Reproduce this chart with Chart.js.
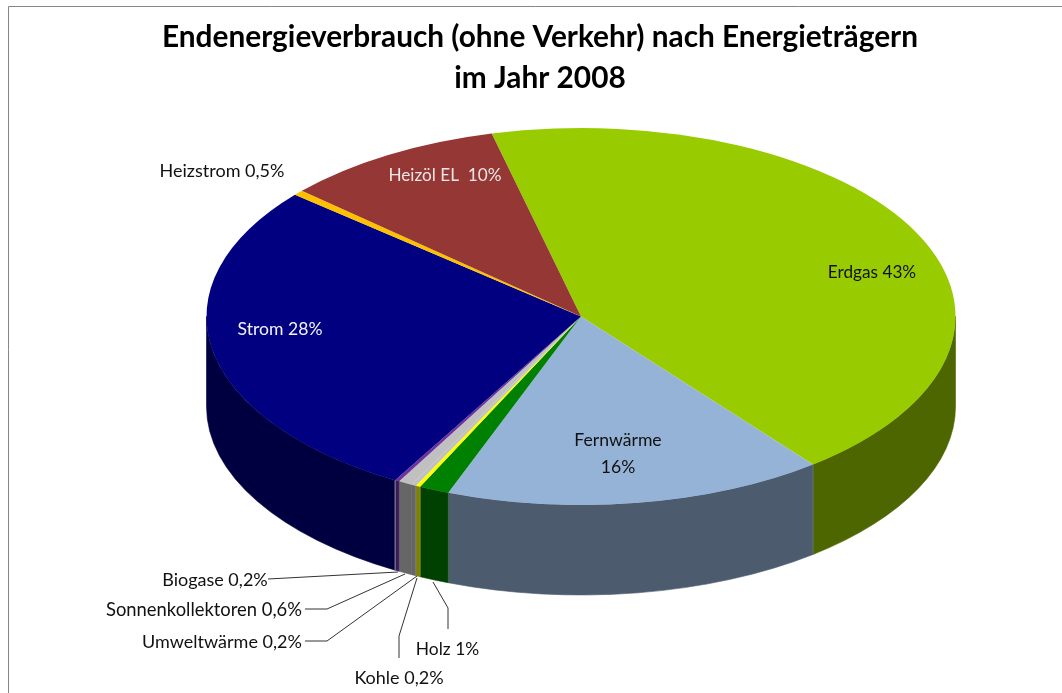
<!DOCTYPE html>
<html lang="de">
<head>
<meta charset="utf-8">
<style>html,body{margin:0;padding:0;background:#fff}canvas{display:block}</style>
<script src="https://cdn.jsdelivr.net/npm/chart.js@4"></script>
</head>
<body>
<canvas id="c" width="1062" height="693"></canvas>
<script>
const titleLines = ["Endenergieverbrauch (ohne Verkehr) nach Energieträgern", "im Jahr 2008"];
const categories = ["Erdgas", "Fernwärme", "Holz", "Kohle", "Umweltwärme", "Sonnenkollektoren", "Biogase", "Strom", "Heizstrom", "Heizöl EL"];
const shares = [43.2, 16.4, 1.3, 0.2, 0.2, 0.6, 0.2, 27.9, 0.45, 9.55];
const topColours = ["#99CC00", "#95B3D7", "#008000", "#FFFF00", "#C0C0C0", "#C0C0C0", "#7030A0", "#000080", "#FFC000", "#953735"];
const wallColours = ["#4E6600", "#4C5B6E", "#004000", "#808000", "#666666", "#666666", "#3A1C55", "#000040", "#806000", "#4B1C1B"];

const FONT = "Lato, Carlito, sans-serif";
const pieBox = { cx: 581, cy: 316.5, rx: 374.5, ry: 188.5, depth: 90 };
const labelBoxes = [
  { lines: ["Erdgas 43%"], x: 872, y: 272, size: 17.2, colour: "#111" },
  { lines: ["Fernwärme", "16%"], x: 618, y: 440, size: 17.6, colour: "#111", lead: 27 },
  { lines: ["Heizöl EL  10%"], x: 445, y: 175, size: 17.2, colour: "#EDE6E6" },
  { lines: ["Strom 28%"], x: 280, y: 329, size: 17.6, colour: "#F2F2F8" },
  { lines: ["Heizstrom 0,5%"], x: 222, y: 171, size: 18, colour: "#111" },
  { lines: ["Biogase 0,2%"], x: 215, y: 580, size: 18, colour: "#111" },
  { lines: ["Sonnenkollektoren 0,6%"], x: 204, y: 610, size: 18.4, colour: "#111" },
  { lines: ["Umweltwärme 0,2%"], x: 222, y: 642, size: 18, colour: "#111" },
  { lines: ["Kohle 0,2%"], x: 399, y: 678, size: 18, colour: "#111" },
  { lines: ["Holz 1%"], x: 447.5, y: 649, size: 17.4, colour: "#111" }
];
const leaderPaths = [
  [[268, 579], [398, 572]],
  [[305, 609], [327, 609], [405, 574]],
  [[305, 641], [327, 641], [417, 576]],
  [[399, 658], [399, 636], [417, 578]],
  [[448, 629], [448, 608], [433, 582]]
];

function placeOnBox(ctx, el) {
  ctx.translate(pieBox.cx, pieBox.cy);
  ctx.scale(pieBox.rx / el.outerRadius, pieBox.ry / el.outerRadius);
  ctx.translate(-el.x, -el.y);
}

const extrudedPie = {
  id: "extrudedPie",
  beforeDraw(chart) {
    const ctx = chart.ctx;
    ctx.save();
    ctx.fillStyle = "#fff";
    ctx.fillRect(0, 0, chart.width, chart.height);
    ctx.strokeStyle = "#868686";
    ctx.lineWidth = 1;
    ctx.beginPath();
    ctx.moveTo(8.5, chart.height);
    ctx.lineTo(8.5, 6.5);
    ctx.lineTo(chart.width, 6.5);
    ctx.stroke();
    ctx.restore();
  },
  beforeDatasetsDraw(chart) {
    const ctx = chart.ctx, arcs = chart.getDatasetMeta(0).data;
    const { cx, cy, rx, ry, depth } = pieBox;
    ctx.save();
    arcs.forEach((arc, i) => {
      for (const shift of [-2 * Math.PI, 0, 2 * Math.PI]) {
        const s = Math.max(arc.startAngle + shift, 0);
        const e = Math.min(arc.endAngle + shift, Math.PI);
        if (e <= s) continue;
        ctx.beginPath();
        ctx.ellipse(cx, cy, rx, ry, 0, s, e);
        ctx.ellipse(cx, cy + depth, rx, ry, 0, e, s, true);
        ctx.closePath();
        ctx.fillStyle = wallColours[i];
        ctx.fill();
        ctx.strokeStyle = wallColours[i];
        ctx.lineWidth = 0.6;
        ctx.stroke();
      }
    });
    arcs.forEach((arc, i) => {
      const a = arc.startAngle;
      const prev = (i + arcs.length - 1) % arcs.length;
      if (wallColours[prev] === wallColours[i] || Math.sin(a) <= 0) return;
      const x = cx + rx * Math.cos(a), y = cy + ry * Math.sin(a);
      ctx.beginPath();
      ctx.moveTo(x, y);
      ctx.lineTo(x, y + depth);
      ctx.strokeStyle = categories[i] === "Strom" ? "rgba(255,255,255,0.55)" : "rgba(255,255,255,0.14)";
      ctx.lineWidth = 1;
      ctx.stroke();
    });
    ctx.restore();
    ctx.save();
    placeOnBox(ctx, arcs[0]);
  },
  afterDatasetsDraw(chart) {
    chart.ctx.restore();
  },
  afterDraw(chart) {
    const ctx = chart.ctx;
    ctx.save();
    ctx.lineWidth = 1;
    ctx.strokeStyle = "#333";
    leaderPaths.forEach((path) => {
      ctx.beginPath();
      path.forEach(([x, y], j) => (j ? ctx.lineTo(x, y) : ctx.moveTo(x, y)));
      ctx.stroke();
    });
    ctx.textAlign = "center";
    ctx.textBaseline = "middle";
    labelBoxes.forEach((b) => {
      ctx.font = b.size + "px " + FONT;
      ctx.fillStyle = b.colour;
      b.lines.forEach((t, j) => ctx.fillText(t, b.x, b.y + j * (b.lead || 0)));
    });
    ctx.restore();
  }
};

new Chart(document.getElementById("c"), {
  type: "pie",
  plugins: [extrudedPie],
  data: {
    labels: categories,
    datasets: [{
      data: shares,
      backgroundColor: topColours,
      borderWidth: 0,
      clip: false
    }]
  },
  options: {
    responsive: false,
    animation: false,
    rotation: -13.8,
    layout: { padding: { left: 18, top: 17 } },
    events: [],
    plugins: {
      legend: { display: false },
      tooltip: { enabled: false },
      title: {
        display: true,
        text: titleLines,
        color: "#000",
        font: { family: FONT, size: 29.8, weight: "bold", lineHeight: 1.38 },
        padding: { top: 0, bottom: 6 }
      }
    }
  }
});
</script>
</body>
</html>
